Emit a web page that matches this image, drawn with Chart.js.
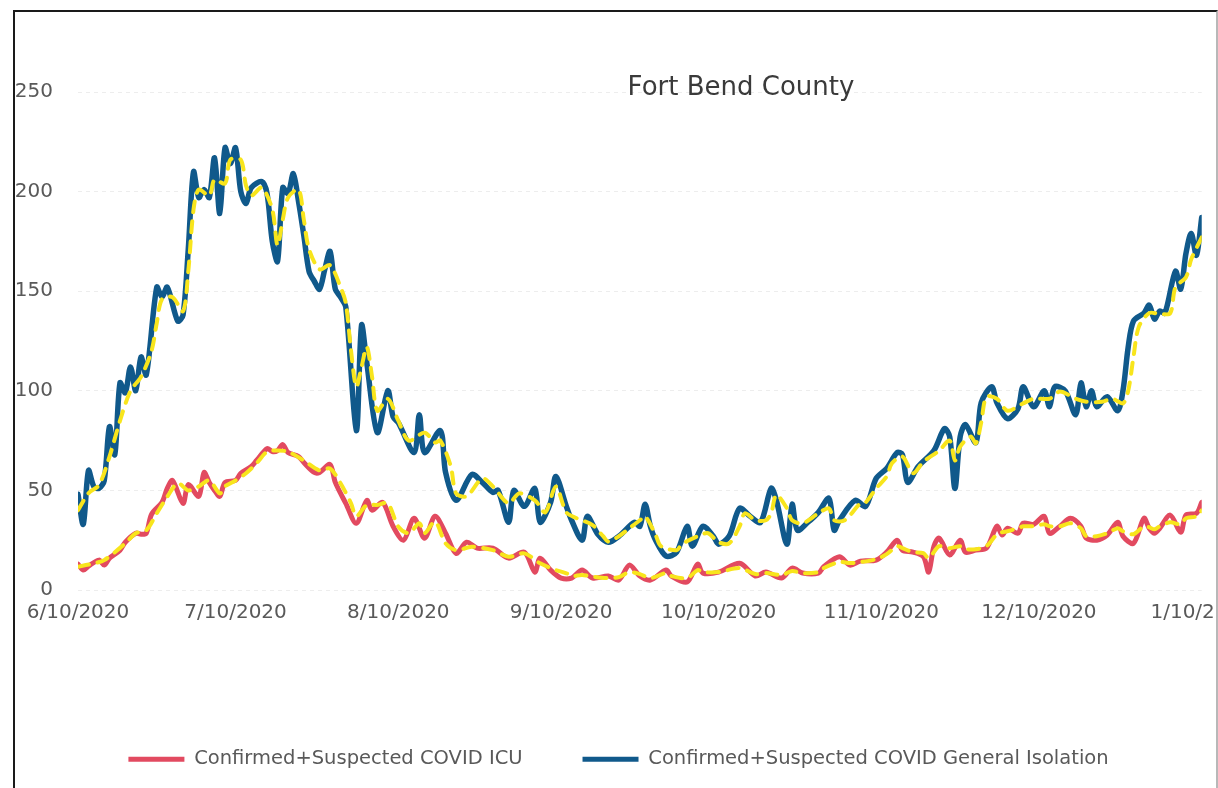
<!DOCTYPE html>
<html>
<head>
<meta charset="utf-8">
<script src="https://cdn.jsdelivr.net/npm/chart.js@4/dist/chart.umd.min.js"></script>
<style>
  html, body { margin: 0; padding: 0; width: 1218px; height: 788px; overflow: hidden; background: #ffffff; }
  #frame { position: absolute; left: 13px; top: 10px; width: 1205px; height: 900px; box-sizing: border-box;
           border-left: 2px solid #1a1a1a; border-top: 2px solid #1a1a1a; border-right: 2px solid #b8b8b8; overflow: hidden; }
  #wrap { position: absolute; left: -34px; top: -12px; }
</style>
</head>
<body>
<div id="frame"><div id="wrap"><canvas id="c" width="1275" height="779"></canvas></div></div>
<script>
// ---- Titles / labels ----
const chartTitle = 'Fort Bend County';
const seriesNames = ['Confirmed+Suspected COVID ICU', 'Confirmed+Suspected COVID General Isolation'];
const avgNames = ['ICU moving average', 'General Isolation moving average'];

// ---- X axis: days after 6/10/2020 and tick labels ----
const xTickDays = [0, 30, 61, 92, 122, 153, 183, 214];
const xTickLabels = ['6/10/2020', '7/10/2020', '8/10/2020', '9/10/2020', '10/10/2020', '11/10/2020', '12/10/2020', '1/10/2021'];
const yTickValues = [0, 50, 100, 150, 200, 250];

// ---- ICU (red) ----
const icuDays = [0,1,2,4,5,6,8,9,11,12,13,14,16,17,18,20,21,23,24,25,26,27,28,30,31,33,34,36,37,38,39,40,42,43,45,46,48,49,51,53,55,56,58,60,62,64,66,68,70,72,74,76,79,82,85,87,88,90,92,94,96,98,101,103,105,107,109,112,113,116,118,119,122,126,129,131,134,136,138,141,142,145,147,149,152,154,156,157,159,161,162,163,164,166,168,169,171,173,175,176,177,179,180,182,184,185,187,189,191,192,194,196,198,199,201,203,204,205,206,208,210,211,213,214];
const icuValues = [13,10,12,15,12.5,16,20,24,28.5,28,28.5,38,44,51,55,43.5,53,47,59,54,50,47,54,55,58.6,62,65,71,69.5,70,73,69,67,64,59,59,63,54,43.5,33.5,45,40,44,32,25,36,26,37,28.5,18.4,24,21,21,16,19,9,16,10,6,6,10,6,7,5,12.5,7,5,10,7,4,13,8.5,9,13.4,7,9,6,11,8.5,8.5,11.7,16.7,12.5,14.5,15,19,25,20,19,16.7,9,22,26,17.6,25,19,20,21,32,27.6,31,28.5,33.5,33,37,28.5,32,36,32,26,25,27.6,34,27,23.4,36,31,28.5,31,37.6,29,37.6,38.5,44];

// ---- General Isolation (blue) ----
const giDays = [0,1,2,3,4,5,6,7,8,9,10,11,12,13,15,16,17,19,20,21,22,23,24,25,26,27,28,29,30,31,32,33,35,36,37,38,39,40,41,42,43,44,45,46,47,48,49,50,51,53,54,55,57,59,60,61,64,65,66,69,70,72,75,77,79,80,82,83,85,87,88,90,91,93,94,96,97,99,101,103,106,107,108,109,110,112,114,116,117,119,121,122,124,126,128,130,132,133,135,136,137,139,141,143,144,145,148,150,152,154,156,157,158,160,163,165,166,167,168,169,171,172,174,175,177,179,180,182,184,185,186,188,190,191,192,193,194,196,198,199,200,201,203,204,205,206,207,209,210,211,212,213,214];
const giValues = [48,33,60,52,51,55,82,68,104,99,112,100,117,108,152,147,152,135,138,171,210,197,201,197,217,189,222,214,222,200,194,202,205,199,175,165,202,199,209,195,178,160,155,151,161,170,151,147,142,80,133,114,79,100,87,84,69,88,69,80,59,45,58,54,49,50,34,50,42,51,34,44,57,42,35,25,37,28,24,27,34,32,43,32,25,17,19,32,22,32,27,23,27,41,37,34,51,45,23,43,30,34,39,46,30,35,45,42,56,61,69,68,54,62,70,81,77,51,77,83,74,94,102,94,86,91,102,92,100,92,102,100,88,104,92,100,92,97,90,100,122,135,139,143,136,140,139,160,151,169,179,168,187];

// ---- Yellow dashed averages ----
const icuAvgDays = [0,3,5,9,11,13,15,17,19,21,23,25,27,28,30,32,34,36,38,40,43,46,48,50,52,53,55,57,59,61,63,65,66,68,70,72,75,79,82,85,88,91,93,94,96,98,101,103,105,107,109,112,113,116,118,119,122,126,129,131,134,136,138,141,142,145,147,149,152,154,156,157,159,161,162,164,166,168,169,171,173,175,176,177,179,180,182,184,185,187,189,191,192,194,196,198,199,201,203,204,205,206,208,210,211,213,214];
const icuAvgValues = [11.7,13.4,15,23.4,28.5,30,38.5,46.8,53.6,50,52,55,48.5,52,55,58.6,63.6,69.4,70,69.4,65,60,61,53.6,43.5,37,42.7,42.7,43.5,31.8,28.5,33.5,28.5,34.3,23.4,20,21.7,20,16.7,18.4,13.4,10,8.4,7,7.5,6.7,6,6.5,9,8,6,8.5,7,6,10,9,9,11,8,8.5,7.5,9.5,8.5,9,11,14,13.5,14,15.5,18,22,21,19,18.5,16,22,21,22,20.5,20.5,22,28,29,29.5,31,32,32,33,32,32,33.5,31,27,27,28.5,31,29.5,28,32,31.5,30.5,32,34,33,36,37,40];
const giAvgDays = [0,2,4,6,8,10,12,14,15,16,18,20,21,22,23,25,26,28,29,31,32,33,35,37,38,39,40,42,43,44,46,48,50,51,52,53,54,55,56,57,59,61,63,66,68,69,71,72,74,77,79,82,84,87,89,91,93,95,98,100,101,103,105,107,108,110,111,114,115,118,120,122,124,126,127,129,131,132,133,135,136,138,141,143,144,146,149,150,152,154,155,157,159,161,164,166,167,168,170,171,172,173,175,177,180,182,185,187,190,192,195,197,199,200,201,202,204,206,208,209,211,212,214];
const giAvgValues = [40,48.6,52.7,67,85,100,107,120,134,146,147,140,160,191,201,198,206,204,216,216,203,198,202,191,173,186,197,201,186,171,161,163,152,144,120,102,112,122,107,90,96,85,75,79,74,75,62,48.5,47,56,52,43.5,48.5,45,39,52,39,36,32.6,27,24.3,27,31,35,37,27.6,22,20,23,27,28.5,24,23.4,32,38.5,35,35,38.5,47.7,41,35,33.5,38.5,41,35,35,43.5,44,51,57,63.6,67,58.6,64.4,70,75,65,72,77,73.6,84,97,96,90,93.7,96,96,99.6,96,94.5,94.5,96,93.7,100,117,132,139,138.6,139,152,157,166,177];

// ---- Styles ----
const icuColor = '#e24a60';
const giColor = '#10598b';
const avgColor = '#f8e51c';
const tickColor = '#595959';
const titleColor = '#3a3a3a';
const gridColor = 'rgba(0,0,0,0.07)';

Chart.defaults.font.family = '"DejaVu Sans", sans-serif';

function toPoints(days, values) {
  return days.map((d, i) => ({ x: d, y: values[i] }));
}

const overlayTitle = {
  id: 'overlayTitle',
  afterDraw(chart) {
    const { ctx, chartArea } = chart;
    ctx.save();
    ctx.font = '26px "DejaVu Sans", sans-serif';
    ctx.fillStyle = titleColor;
    ctx.textAlign = 'center';
    ctx.textBaseline = 'middle';
    ctx.fillText(chartTitle, chartArea.left + (chartArea.right - chartArea.left) * 0.59, chartArea.top - 4);
    ctx.restore();
  }
};

new Chart(document.getElementById('c'), {
  type: 'line',
  data: {
    datasets: [
      { label: seriesNames[0], data: toPoints(icuDays, icuValues), borderColor: icuColor, backgroundColor: icuColor, borderWidth: 5, order: 1 },
      { label: seriesNames[1], data: toPoints(giDays, giValues), borderColor: giColor, backgroundColor: giColor, borderWidth: 5.5, order: 1 },
      { label: avgNames[0], data: toPoints(icuAvgDays, icuAvgValues), borderColor: avgColor, backgroundColor: avgColor, borderWidth: 4, borderDash: [11, 9], order: 0 },
      { label: avgNames[1], data: toPoints(giAvgDays, giAvgValues), borderColor: avgColor, backgroundColor: avgColor, borderWidth: 4, borderDash: [11, 9], order: 0 }
    ]
  },
  options: {
    responsive: false,
    animation: false,
    events: [],
    elements: {
      point: { radius: 0 },
      line: { tension: 0.3, borderCapStyle: 'round', borderJoinStyle: 'round' }
    },
    layout: { padding: { top: 92, left: 0, right: 0, bottom: 0 } },
    scales: {
      x: {
        type: 'linear', min: 0, max: 214,
        grid: { display: false },
        border: { display: false },
        afterBuildTicks: (scale) => { scale.ticks = xTickDays.map(v => ({ value: v })); },
        afterFit: (scale) => { scale.height = 99.5; },
        ticks: {
          autoSkip: false, maxRotation: 0, padding: 3, color: tickColor, font: { size: 20 },
          callback: (v) => xTickLabels[xTickDays.indexOf(v)]
        }
      },
      y: {
        min: 0, max: 250,
        afterBuildTicks: (scale) => { scale.ticks = yTickValues.map(v => ({ value: v })); },
        afterFit: (scale) => { scale.width = 97; },
        grid: { color: gridColor, drawTicks: false, tickLength: 0 },
        border: { display: false, dash: [4, 4] },
        ticks: { padding: 25, color: tickColor, font: { size: 20 } }
      }
    },
    plugins: {
      title: { display: false },
      tooltip: { enabled: false },
      legend: {
        position: 'bottom',
        labels: {
          boxWidth: 56, boxHeight: 5, padding: 60, color: tickColor, font: { size: 19.5 },
          generateLabels: (chart) => Chart.defaults.plugins.legend.labels.generateLabels(chart)
            .filter(item => seriesNames.includes(item.text))
            .map(item => Object.assign(item, { lineWidth: 0, fillStyle: item.strokeStyle }))
        }
      }
    }
  },
  plugins: [overlayTitle]
});
</script>
</body>
</html>
